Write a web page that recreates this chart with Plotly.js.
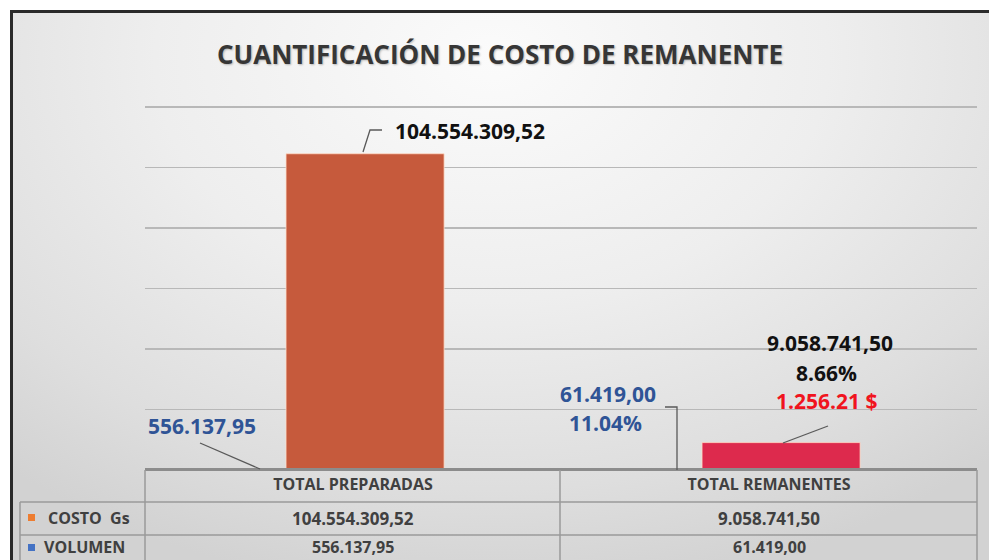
<!DOCTYPE html>
<html>
<head>
<meta charset="utf-8">
<script src="https://cdn.plot.ly/plotly-3.0.1.min.js"></script>
<style>
  html, body { margin: 0; padding: 0; background: #ffffff; overflow: hidden; }
  #bg { position: absolute; left: 10px; top: 10px; width: 1000px; height: 570px;
        border-top: 3px solid #2a2a2a; border-left: 3px solid #2a2a2a; box-sizing: border-box;
        background: radial-gradient(ellipse 75% 95% at 48% 8%, #fbfbfb 0%, #eeeeee 45%, #dedede 80%, #d2d2d2 100%); }
  #chart { position: absolute; left: 0; top: 0; width: 989px; height: 560px; }
</style>
</head>
<body>
<div id="bg"></div>
<div id="chart"></div>
<script>
// ---- data ----
const categories = ['TOTAL PREPARADAS', 'TOTAL REMANENTES'];
const seriesNames = ['COSTO\u00a0\u00a0Gs', 'VOLUMEN'];
const costo = [104554309.52, 9058741.50];
const volumen = [556137.95, 61419.00];
const usdRemanente = 1256.21;
const yTicks = [0, 20000000, 40000000, 60000000, 80000000, 100000000, 120000000];
const yMax = 121000000;

// ---- helpers ----
function fmtEs(v) {
  const parts = v.toFixed(2).split('.');
  const intPart = parts[0].replace(/\B(?=(\d{3})+(?!\d))/g, '.');
  return intPart + ',' + parts[1];
}
function fmtUsd(v) {
  const parts = v.toFixed(2).split('.');
  const intPart = parts[0].replace(/\B(?=(\d{3})+(?!\d))/g, '.');
  return intPart + '.' + parts[1] + ' $';
}
const pctCosto = (costo[1] / costo[0] * 100).toFixed(2) + '%';
const pctVol = (volumen[1] / volumen[0] * 100).toFixed(2) + '%';

// plot area in pixels (120M gridline sits at y=107)
const L = 145, R = 977, B = 470;
const T = Math.round(B - (B - 107) * yMax / 120000000);
function px(x) { return (x - L) / (R - L); }
function py(y) { return (B - y) / (B - T); }

const FONT = 'Open Sans, Lato, sans-serif';
const gray = '#404040';
const tableLine = '#9a9a9a';
const blue = '#2F5496';

const traces = [
  {
    type: 'bar', name: seriesNames[1], x: categories, y: volumen,
    marker: { color: '#4472C4' }, width: 0.2, offset: -0.32, hoverinfo: 'skip'
  },
  {
    type: 'bar', name: seriesNames[0], x: categories, y: costo,
    marker: { color: ['#C65A3C', '#DD2A4D'], line: { color: 'rgba(255,220,200,0.8)', width: 1 } },
    width: 0.38, offset: -0.161, hoverinfo: 'skip'
  }
];

function lineShape(x0, y0, x1, y1, color, w) {
  return { type: 'line', xref: 'paper', yref: 'paper', x0: px(x0), y0: py(y0), x1: px(x1), y1: py(y1),
           line: { color: color, width: w }, layer: 'above' };
}
function pathShape(pts, color, w) {
  const d = pts.map((p, i) => (i ? 'L ' : 'M ') + px(p[0]) + ',' + py(p[1])).join(' ');
  return { type: 'path', xref: 'paper', yref: 'paper', path: d, line: { color: color, width: w }, layer: 'above' };
}

const shapes = [
  // table
  lineShape(145, 469.5, 977, 469.5, '#8c8c8c', 3),
  lineShape(20, 502, 977, 502, tableLine, 1.5),
  lineShape(20, 535, 977, 535, tableLine, 1.5),
  lineShape(20, 502, 20, 575, tableLine, 1.5),
  lineShape(145, 470, 145, 575, tableLine, 1.5),
  lineShape(560, 470, 560, 575, tableLine, 1.5),
  lineShape(977, 470, 977, 575, tableLine, 1.5),
  // legend keys
  { type: 'rect', xref: 'paper', yref: 'paper', x0: px(28), x1: px(35), y0: py(521), y1: py(514),
    fillcolor: '#ED7D31', line: { width: 0 }, layer: 'above' },
  { type: 'rect', xref: 'paper', yref: 'paper', x0: px(28), x1: px(35), y0: py(551), y1: py(544),
    fillcolor: '#4472C4', line: { width: 0 }, layer: 'above' },
  // leader lines
  pathShape([[363, 152], [370, 130], [382, 130]], '#595959', 1.3),
  lineShape(200, 443, 260, 469, '#595959', 1.3),
  pathShape([[665, 407], [677, 407], [677, 470]], '#595959', 1.3),
  lineShape(783, 443, 828, 426, '#595959', 1.3)
];

function ann(text, x, y, size, color, xref) {
  return { text: text, x: x, y: y, xref: xref || 'x', yref: 'paper', showarrow: false,
           xanchor: 'center', yanchor: 'middle',
           font: { family: FONT, size: size, color: color, weight: 'bold' } };
}
function annPx(text, xpx, ypx, size, color, anchor) {
  return { text: text, x: px(xpx), y: py(ypx), xref: 'paper', yref: 'paper', showarrow: false,
           xanchor: anchor || 'left', yanchor: 'middle',
           font: { family: FONT, size: size, color: color, weight: 'bold' } };
}

const annotations = [
  // data labels
  ann(fmtEs(costo[0]), 0.281, py(131), 21, '#111111'),
  ann(fmtEs(volumen[0]), -0.363, py(426), 21, blue),
  ann(fmtEs(volumen[1]), 0.613, py(394), 21, blue),
  ann(pctVol, 0.606, py(423), 21, blue),
  ann(fmtEs(costo[1]), 1.147, py(343), 21, '#111111'),
  ann(pctCosto, 1.139, py(373), 21, '#111111'),
  ann(fmtUsd(usdRemanente), 1.139, py(401), 21, '#F0141E'),
  // table values
  ann(fmtEs(costo[0]), 0, py(518), 17, gray),
  ann(fmtEs(costo[1]), 1, py(518), 17, gray),
  ann(fmtEs(volumen[0]), 0, py(547), 16, gray),
  ann(fmtEs(volumen[1]), 1, py(547), 16, gray),
  // table row labels
  annPx(seriesNames[0], 46, 518, 16, gray),
  annPx(seriesNames[1], 42, 547, 16, gray)
];

const layout = {
  width: 989, height: 560,
  margin: { l: L, r: 989 - R, t: T, b: 560 - B, pad: 0 },
  paper_bgcolor: 'rgba(0,0,0,0)', plot_bgcolor: 'rgba(0,0,0,0)',
  title: {
    text: 'CUANTIFICACIÓN DE COSTO DE REMANENTE',
    font: { family: FONT, size: 26, color: '#363636', weight: 'bold', shadow: '1px 1px 2px rgba(0,0,0,0.25)' },
    xref: 'paper', x: px(500), xanchor: 'center',
    yref: 'container', y: 1 - 55 / 560, yanchor: 'middle'
  },
  barmode: 'overlay',
  showlegend: false,
  xaxis: {
    type: 'category', range: [-0.5, 1.5], fixedrange: true,
    showgrid: false, zeroline: false, showline: false, ticks: '',
    tickfont: { family: FONT, size: 16, color: gray, weight: 'bold' },
    ticklabelstandoff: 3
  },
  yaxis: {
    range: [0, yMax], tickvals: yTicks, showticklabels: false,
    showgrid: true, gridcolor: '#b8b8b8', gridwidth: 1.5, zeroline: false, showline: false, ticks: ''
  },
  shapes: shapes,
  annotations: annotations
};

Plotly.newPlot('chart', traces, layout, { staticPlot: true, displayModeBar: false });
</script>
</body>
</html>
